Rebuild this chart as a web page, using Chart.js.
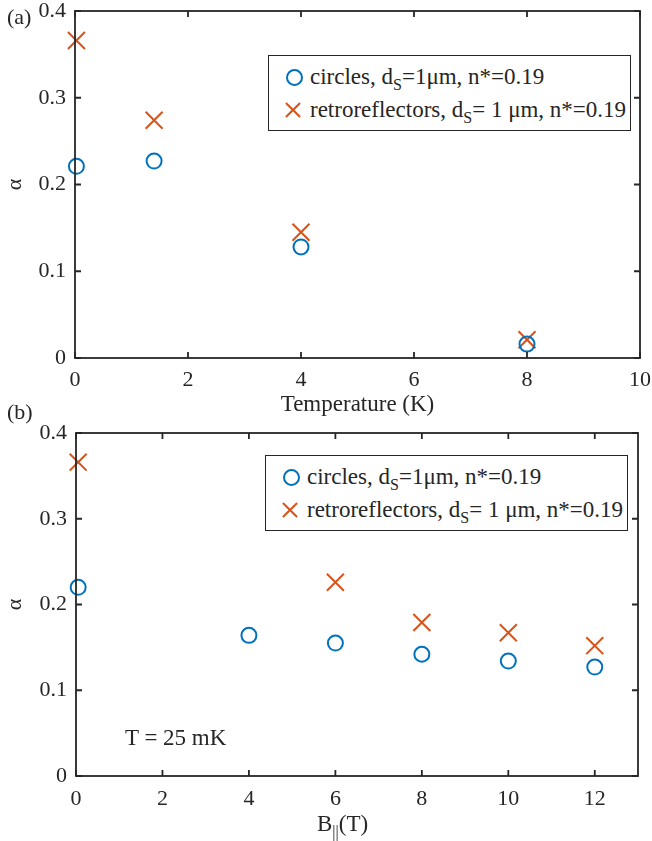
<!DOCTYPE html>
<html>
<head>
<meta charset="utf-8">
<script src="https://cdn.jsdelivr.net/npm/chart.js@4"></script>
<style>
  body { margin: 0; background: #fff; width: 652px; height: 841px; position: relative; overflow: hidden;
         font-family: 'Liberation Serif', 'Times New Roman', serif; color: #262626; }
  .wrap { position: absolute; left: 0; }
  .panel { position: absolute; font-size: 22px; line-height: 26px; white-space: nowrap; }
  .legend { position: absolute; border: 1.5px solid #262626; background: #fff; font-size: 23px; line-height: 33px; padding: 4px 0; box-sizing: border-box; }
  .legend div { position: relative; padding-left: 41px; white-space: nowrap; }
  .mk-o { position: absolute; left: 17px; top: 9px; width: 13px; height: 13px; border: 2px solid #0072BD; border-radius: 50%; }
  .mk-x { position: absolute; left: 15px; top: 8px; width: 18px; height: 18px; }
  .mk-x:before, .mk-x:after { content: ''; position: absolute; left: -1px; top: 8px; width: 20px; height: 2px; background: #D95319; }
  .mk-x:before { transform: rotate(45deg); }
  .mk-x:after { transform: rotate(-45deg); }
  sub { font-size: 16px; vertical-align: -6px; line-height: 0; }
</style>
</head>
<body>
<div class="wrap" style="top:-40px;width:700px;height:460px"><canvas id="chartA"></canvas></div>
<div class="wrap" style="top:400px;width:652px;height:441px"><canvas id="chartB"></canvas></div>

<div class="panel" style="left:7px;top:4px">(a)</div>
<div class="panel" style="left:7px;top:399px">(b)</div>
<div class="panel" style="left:125px;top:725px;font-size:23px">T = 25 mK</div>
<div class="panel" style="left:317px;top:811px;font-size:23px">B<sub>||</sub>(T)</div>

<div class="legend" style="left:268px;top:55px;width:363px;height:76px">
  <div><span class="mk-o"></span>circles, d<sub>S</sub>=1μm, n*=0.19</div>
  <div><span class="mk-x"></span>retroreflectors, d<sub>S</sub>= 1 μm, n*=0.19</div>
</div>
<div class="legend" style="left:265px;top:455px;width:363px;height:76px">
  <div><span class="mk-o"></span>circles, d<sub>S</sub>=1μm, n*=0.19</div>
  <div><span class="mk-x"></span>retroreflectors, d<sub>S</sub>= 1 μm, n*=0.19</div>
</div>

<script>
// panel (a): alpha vs temperature
const tempCircles = [0.025, 1.4, 4, 8];
const alphaTempCircles = [0.221, 0.227, 0.128, 0.016];
const tempRetro = [0.025, 1.4, 4, 8];
const alphaTempRetro = [0.366, 0.274, 0.145, 0.021];

// panel (b): alpha vs in-plane field
const fieldCircles = [0.05, 4, 6, 8, 10, 12];
const alphaFieldCircles = [0.220, 0.164, 0.155, 0.142, 0.134, 0.127];
const fieldRetro = [0.05, 6, 8, 10, 12];
const alphaFieldRetro = [0.366, 0.226, 0.179, 0.167, 0.152];

const yTicks = [0, 0.1, 0.2, 0.3, 0.4];

const BLUE = '#0072BD';
const ORANGE = '#D95319';
const AXIS = '#262626';
const FONT = "'Liberation Serif', 'Times New Roman', serif";

const toXY = (xs, ys) => xs.map((x, i) => ({ x: x, y: ys[i] }));

// box around the plot with inward ticks on all four sides
const framePlugin = {
    id: 'frame',
    afterDraw(chart) {
        const { ctx, chartArea: a, scales } = chart;
        ctx.save();
        ctx.strokeStyle = AXIS;
        ctx.lineWidth = 1.8;
        ctx.strokeRect(a.left, a.top, a.right - a.left, a.bottom - a.top);
        const len = 6;
        ctx.beginPath();
        scales.x.ticks.forEach(t => {
            const px = scales.x.getPixelForValue(t.value);
            ctx.moveTo(px, a.bottom); ctx.lineTo(px, a.bottom - len);
            ctx.moveTo(px, a.top); ctx.lineTo(px, a.top + len);
        });
        scales.y.ticks.forEach(t => {
            const py = scales.y.getPixelForValue(t.value);
            ctx.moveTo(a.left, py); ctx.lineTo(a.left + len, py);
            ctx.moveTo(a.right, py); ctx.lineTo(a.right - len, py);
        });
        ctx.stroke();
        ctx.restore();
    }
};

function makeChart(id, cfg) {
    return new Chart(document.getElementById(id), {
        type: 'scatter',
        data: {
            datasets: [{
                data: toXY(cfg.xc, cfg.yc),
                pointStyle: 'circle',
                pointRadius: 7.5,
                pointHoverRadius: 7.5,
                borderColor: BLUE,
                backgroundColor: 'rgba(0,0,0,0)',
                borderWidth: 2
            }, {
                data: toXY(cfg.xr, cfg.yr),
                pointStyle: 'crossRot',
                pointRadius: 12,
                pointHoverRadius: 12,
                borderColor: ORANGE,
                borderWidth: 2
            }]
        },
        options: {
            responsive: true,
            maintainAspectRatio: false,
            animation: false,
            clip: false,
            layout: { padding: cfg.padding },
            plugins: { legend: { display: false }, tooltip: { enabled: false } },
            scales: {
                x: {
                    type: 'linear',
                    min: 0, max: cfg.xmax,
                    afterBuildTicks: s => { s.ticks = cfg.xTicks.map(v => ({ value: v })); },
                    ticks: { color: AXIS, font: { family: FONT, size: 22 }, padding: cfg.xPad, maxRotation: 0 },
                    grid: { display: false, drawTicks: false },
                    border: { display: false },
                    title: { display: !!cfg.xTitle, text: cfg.xTitle, color: AXIS, font: { family: FONT, size: 23 }, padding: 1 },
                    afterFit: s => { s.height = cfg.xHeight; }
                },
                y: {
                    min: 0, max: 0.4,
                    afterBuildTicks: s => { s.ticks = yTicks.map(v => ({ value: v })); },
                    ticks: { color: AXIS, font: { family: FONT, size: 22 }, padding: 9,
                             callback: v => (v === 0 ? '0' : String(v)) },
                    grid: { display: false, drawTicks: false },
                    border: { display: false },
                    title: { display: true, text: 'α', color: AXIS, font: { family: FONT, size: 22 }, padding: 2 },
                    afterFit: s => { s.width = cfg.yWidth; }
                }
            }
        },
        plugins: [framePlugin]
    });
}

makeChart('chartA', {
    xc: tempCircles, yc: alphaTempCircles, xr: tempRetro, yr: alphaTempRetro,
    xmax: 10, xTicks: [0, 2, 4, 6, 8, 10], xTitle: 'Temperature (K)',
    padding: { left: 0, top: 51, right: 60, bottom: 0 },
    xHeight: 62, yWidth: 75, xPad: 9
});

makeChart('chartB', {
    xc: fieldCircles, yc: alphaFieldCircles, xr: fieldRetro, yr: alphaFieldRetro,
    xmax: 13, xTicks: [0, 2, 4, 6, 8, 10, 12], xTitle: '',
    padding: { left: 0, top: 33, right: 11, bottom: 0 },
    xHeight: 65, yWidth: 76, xPad: 10
});
</script>
</body>
</html>
